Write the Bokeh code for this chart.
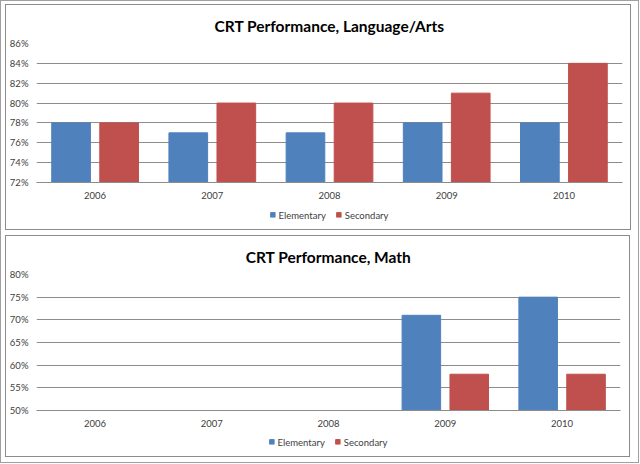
from bokeh.plotting import figure
from bokeh.models import (FactorRange, Range1d, FixedTicker, NumeralTickFormatter,
                          Legend, LegendItem, ColumnDataSource)
from bokeh.transform import dodge
from bokeh.layouts import column
from bokeh.embed import file_html
from bokeh.resources import INLINE

nan = float("nan")

years = ["2006", "2007", "2008", "2009", "2010"]
series_names = ["Elementary", "Secondary"]

la_elementary = [0.78, 0.77, 0.77, 0.78, 0.78]
la_secondary = [0.78, 0.80, 0.80, 0.81, 0.84]
la_ticks = [0.72, 0.74, 0.76, 0.78, 0.80, 0.82, 0.84, 0.86]
la_grid = [0.74, 0.76, 0.78, 0.80, 0.82, 0.84]

math_elementary = [nan, nan, nan, 0.71, 0.75]
math_secondary = [nan, nan, nan, 0.58, 0.58]
math_ticks = [0.50, 0.55, 0.60, 0.65, 0.70, 0.75, 0.80]
math_grid = [0.55, 0.60, 0.65, 0.70, 0.75, 0.80]

BLUE = "#4F81BD"
RED = "#C0504D"
GRID = "#8C8C8C"
TEXT = "#404040"
FONT = "Lato"
SMALL = "9.5px"


def add_bars(p, src, base):
    r1 = p.vbar(x=dodge("year", -0.205, range=p.x_range), top="elem", bottom=base,
                width=0.33, source=src, color=BLUE)
    r2 = p.vbar(x=dodge("year", 0.205, range=p.x_range), top="sec", bottom=base,
                width=0.33, source=src, color=RED)
    return r1, r2


def make_chart(title, elem, sec, ticks, grid, width, height, fh, right, leg_h):
    src = ColumnDataSource(dict(year=years, elem=elem, sec=sec))
    p = figure(x_range=FactorRange(*years), y_range=Range1d(ticks[0], ticks[-1]),
               width=width, height=height, output_backend="svg", toolbar_location=None,
               min_border_left=30, min_border_right=right, min_border_top=38,
               min_border_bottom=height - 38 - fh)
    p.title.text = title
    p.title.align = "center"
    p.title.text_font = FONT
    p.title.text_font_size = "15.5px"
    p.title.text_font_style = "bold"
    p.title.text_color = "#000000"
    p.title.standoff = 17

    add_bars(p, src, ticks[0])

    p.outline_line_color = None
    p.xgrid.grid_line_color = None
    p.ygrid.ticker = FixedTicker(ticks=grid)
    p.ygrid.grid_line_color = GRID
    p.ygrid.grid_line_width = 1

    p.yaxis.ticker = FixedTicker(ticks=ticks)
    p.yaxis.formatter = NumeralTickFormatter(format="0%")
    p.yaxis.axis_line_color = None
    p.yaxis.major_tick_line_color = None
    p.yaxis.minor_tick_line_color = None
    p.yaxis.major_tick_out = 0
    p.yaxis.major_tick_in = 0
    p.yaxis.minor_tick_out = 0
    p.yaxis.major_label_text_font = FONT
    p.yaxis.major_label_text_font_size = SMALL
    p.yaxis.major_label_text_color = TEXT
    p.yaxis.major_label_standoff = 8

    p.xaxis.axis_line_color = GRID
    p.xaxis.major_tick_line_color = None
    p.xaxis.minor_tick_line_color = None
    p.xaxis.major_tick_out = 0
    p.xaxis.major_tick_in = 0
    p.xaxis.minor_tick_out = 0
    p.xaxis.major_label_text_font = FONT
    p.xaxis.major_label_text_font_size = SMALL
    p.xaxis.major_label_text_color = TEXT
    p.xaxis.major_label_standoff = 9

    # legend strip: the same two series in a small figure whose single factor
    # matches no year, so no bar is drawn there, only the legend entries
    lp = figure(x_range=FactorRange("legend"), y_range=Range1d(0, 1),
                width=width, height=leg_h, output_backend="svg", toolbar_location=None,
                min_border=0, x_axis_type=None, y_axis_type=None)
    lp.outline_line_color = None
    lp.grid.grid_line_color = None
    l1, l2 = add_bars(lp, src, 0)
    legend = Legend(items=[LegendItem(label=series_names[0], renderers=[l1]),
                           LegendItem(label=series_names[1], renderers=[l2])],
                    orientation="horizontal", location="center",
                    label_text_font=FONT, label_text_font_size=SMALL,
                    label_text_color=TEXT, glyph_width=6, glyph_height=6,
                    label_standoff=3, spacing=10, padding=2, margin=0,
                    border_line_color=None, background_fill_alpha=0)
    lp.add_layout(legend, "center")
    lp.margin = (0, 0, 5, 0)

    box = column(p, lp, spacing=0)
    box.styles = {"border": "1px solid #8C8C8C"}
    return box


top = make_chart("CRT Performance, Language/Arts", la_elementary, la_secondary,
                 la_ticks, la_grid, 624, 200, 139, 8, 19)
bottom = make_chart("CRT Performance, Math", math_elementary, math_secondary,
                    math_ticks, math_grid, 623, 196, 136, 9, 19)
top.margin = (3, 7, 0, 4)
bottom.margin = (5, 8, 5, 4)

layout = column(top, bottom, spacing=0)
layout.styles = {"border": "1px solid #A0A0A0"}

open("out.html", "w").write(file_html(layout, INLINE))
